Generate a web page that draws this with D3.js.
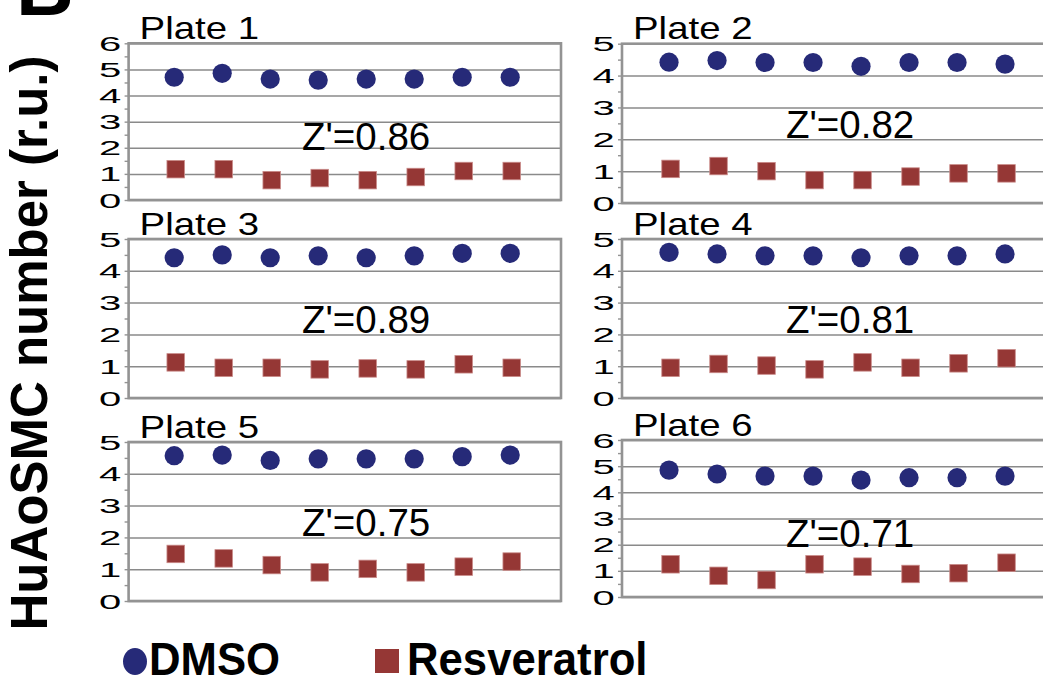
<!DOCTYPE html>
<html>
<head>
  <meta charset="utf-8">
  <script src="https://d3js.org/d3.v7.min.js"></script>
  <style>
    body { margin: 0; background: #fff; font-family: "Liberation Sans", Arial, sans-serif; }
    svg { display: block; }
  </style>
</head>
<body>
<div id="chart"></div>
<script>
  // values, 8 wells per plate
  const wells = [1, 2, 3, 4, 5, 6, 7, 8];
  const plates = ["Plate 1", "Plate 2", "Plate 3", "Plate 4", "Plate 5", "Plate 6"];
  const zPrime = ["Z'=0.86", "Z'=0.82", "Z'=0.89", "Z'=0.81", "Z'=0.75", "Z'=0.71"];
  const yMax = [6, 5, 5, 5, 5, 6];

  const dmso1 = [4.70, 4.85, 4.63, 4.59, 4.63, 4.63, 4.70, 4.70];
  const dmso2 = [4.42, 4.47, 4.41, 4.41, 4.29, 4.41, 4.41, 4.36];
  const dmso3 = [4.41, 4.50, 4.41, 4.47, 4.41, 4.47, 4.55, 4.55];
  const dmso4 = [4.58, 4.53, 4.47, 4.47, 4.41, 4.47, 4.47, 4.53];
  const dmso5 = [4.57, 4.59, 4.42, 4.47, 4.47, 4.47, 4.54, 4.59];
  const dmso6 = [4.85, 4.70, 4.62, 4.62, 4.47, 4.56, 4.56, 4.62];

  const resv1 = [1.18, 1.18, 0.76, 0.84, 0.76, 0.88, 1.11, 1.11];
  const resv2 = [1.07, 1.16, 1.00, 0.72, 0.72, 0.83, 0.93, 0.93];
  const resv3 = [1.12, 0.95, 0.95, 0.90, 0.93, 0.90, 1.06, 0.95];
  const resv4 = [0.95, 1.07, 1.02, 0.90, 1.12, 0.95, 1.09, 1.25];
  const resv5 = [1.48, 1.34, 1.13, 0.90, 1.01, 0.90, 1.08, 1.24];
  const resv6 = [1.25, 0.81, 0.65, 1.25, 1.16, 0.88, 0.91, 1.31];

  const dmsoAll = [dmso1, dmso2, dmso3, dmso4, dmso5, dmso6];
  const resvAll = [resv1, resv2, resv3, resv4, resv5, resv6];

  const navy = "#262a78", brick = "#953735";
  const gridCol = "#8a8a8a", frameCol = "#939393";
  const font = "'Liberation Sans', Arial, sans-serif";

  /* panel frames (pixels), 48px per well */
  const cols = [{x0: 128.6, x1: 561, dom: [0.05, 9.05]}, {x0: 622, x1: 1062, dom: [0.02, 9.02]}];
  const rows = [
    [{top: 43.3, bottom: 200}, {top: 43.7, bottom: 203}],
    [{top: 239, bottom: 398}, {top: 239, bottom: 398}],
    [{top: 442, bottom: 601}, {top: 440, bottom: 597}]
  ];
  const zLeft = [302, 786];

  const svg = d3.select("#chart").append("svg")
    .attr("width", 1043).attr("height", 681);

  plates.forEach((name, i) => {
    const c = cols[i % 2], r = rows[Math.floor(i / 2)][i % 2];
    const x = d3.scaleLinear().domain(c.dom).range([c.x0, c.x0 + (c.dom[1] - c.dom[0]) * 48]);
    const y = d3.scaleLinear().domain([0, yMax[i]]).range([r.bottom, r.top]);
    const g = svg.append("g");

    g.append("rect")
      .attr("x", c.x0).attr("y", r.top)
      .attr("width", c.x1 - c.x0).attr("height", r.bottom - r.top)
      .attr("fill", "#fff");

    // gridlines
    g.append("g")
      .attr("transform", `translate(${c.x0},0)`)
      .call(d3.axisLeft(y).ticks(yMax[i]).tickSize(-(c.x1 - c.x0)).tickFormat(""))
      .call(a => a.select(".domain").remove())
      .call(a => a.selectAll("line").attr("stroke", gridCol).attr("stroke-width", 1.5));

    // minor ticks
    g.append("g")
      .attr("transform", `translate(${c.x0},0)`)
      .call(d3.axisLeft(y).tickValues(d3.range(0, yMax[i] + 0.01, 0.5)).tickSize(4).tickFormat(""))
      .call(a => a.select(".domain").remove())
      .call(a => a.selectAll("line").attr("stroke", frameCol).attr("stroke-width", 1.4));

    // tick labels, wide as in the figure
    g.append("g")
      .attr("transform", `translate(${c.x0},0)`)
      .call(d3.axisLeft(y).ticks(yMax[i]).tickSize(0).tickFormat(d3.format("d")))
      .call(a => a.select(".domain").remove())
      .call(a => a.selectAll("text")
        .attr("x", null).attr("dy", "0.36em")
        .attr("text-anchor", "middle")
        .attr("transform", "translate(-18.5,0) scale(2.05,1)")
        .attr("fill", "#000")
        .style("font-family", font).style("font-size", "19.5px"));

    // frame
    g.append("rect")
      .attr("x", c.x0).attr("y", r.top)
      .attr("width", c.x1 - c.x0).attr("height", r.bottom - r.top)
      .attr("fill", "none").attr("stroke", frameCol).attr("stroke-width", 2.6);

    // title
    g.append("text")
      .attr("transform", `translate(${c.x0 + 11},${r.top - 4.5}) scale(1.2,1)`)
      .style("font-family", font).style("font-size", "32px")
      .text(name);

    // Z' label
    g.append("text")
      .attr("x", zLeft[i % 2])
      .attr("y", y(yMax[i] === 6 ? 1.9 : 2.05))
      .style("font-family", font).style("font-size", "38.5px")
      .text(zPrime[i]);

    // DMSO
    g.selectAll(".dmso").data(wells).enter().append("circle")
      .attr("class", "dmso")
      .attr("cx", d => x(d))
      .attr("cy", (d, k) => y(dmsoAll[i][k]))
      .attr("r", 9.6)
      .attr("fill", navy);

    // Resveratrol
    const s = 17.5;
    g.selectAll(".resv").data(wells).enter().append("rect")
      .attr("class", "resv")
      .attr("x", d => x(d) + 1.5 - s / 2)
      .attr("y", (d, k) => y(resvAll[i][k]) - s / 2)
      .attr("width", s).attr("height", s)
      .attr("fill", brick)
      .attr("stroke", "#c98a88").attr("stroke-width", 0.8);
  });

  // panel letter, cut at the top
  svg.append("text")
    .attr("x", 16).attr("y", 15)
    .style("font-family", font).style("font-size", "80px").style("font-weight", "bold")
    .text("B");

  // y axis title
  svg.append("text")
    .attr("transform", "translate(47,343) rotate(-90)")
    .attr("text-anchor", "middle")
    .attr("textLength", 575).attr("lengthAdjust", "spacingAndGlyphs")
    .style("font-family", font).style("font-size", "51px").style("font-weight", "bold")
    .text("HuAoSMC number (r.u.)");

  // legend
  const legend = svg.append("g");
  legend.append("ellipse")
    .attr("cx", 135).attr("cy", 661.5).attr("rx", 12).attr("ry", 13.5)
    .attr("fill", navy);
  legend.append("text")
    .attr("transform", "translate(149,675) scale(0.93,1)")
    .style("font-family", font).style("font-size", "47px").style("font-weight", "bold")
    .text("DMSO");
  legend.append("rect")
    .attr("x", 375).attr("y", 649).attr("width", 24).attr("height", 24)
    .attr("fill", brick);
  legend.append("text")
    .attr("transform", "translate(407,675) scale(0.93,1)")
    .style("font-family", font).style("font-size", "47px").style("font-weight", "bold")
    .text("Resveratrol");
</script>
</body>
</html>
